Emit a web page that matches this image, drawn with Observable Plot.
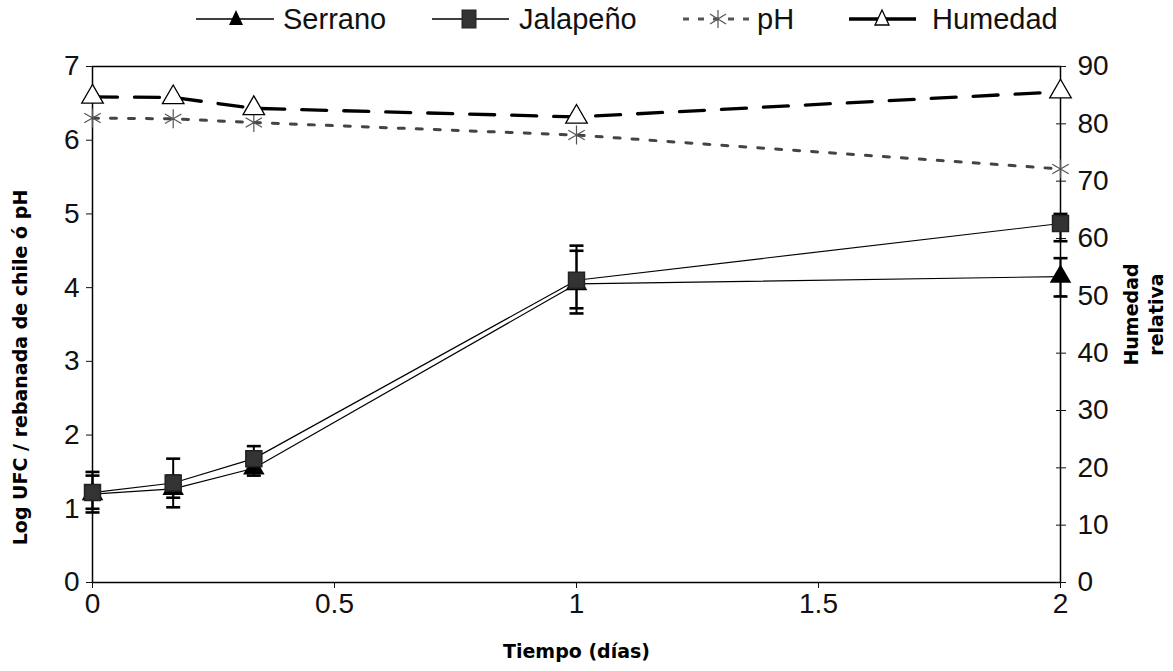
<!DOCTYPE html>
<html><head><meta charset="utf-8">
<script src="https://cdn.jsdelivr.net/npm/d3@7"></script>
<script src="https://cdn.jsdelivr.net/npm/@observablehq/plot@0.6"></script>
<style>
body{margin:0;background:#fff;}
#legend{position:relative;height:45px;width:1173px;font-family:"Liberation Sans",Arial,sans-serif;font-size:29px;color:#111;}
.sw{position:absolute;top:0;}
.lt{position:absolute;top:0;height:38px;line-height:38px;white-space:nowrap;}
</style></head><body>
<div id="legend"></div><div id="chart"></div>
<script>
// ---- data ----
const days = [0, 0.1667, 0.3333, 1, 2];
const serrano = [1.2, 1.27, 1.55, 4.05, 4.15];
const serranoLow = [0.95, 1.02, 1.45, 3.65, 3.88];
const serranoHigh = [1.45, 1.45, 1.72, 4.5, 4.4];
const jalapeno = [1.22, 1.35, 1.68, 4.1, 4.87];
const jalapenoLow = [1.0, 1.15, 1.5, 3.72, 4.63];
const jalapenoHigh = [1.5, 1.68, 1.85, 4.57, 5.0];
const ph = [6.3, 6.29, 6.24, 6.07, 5.61];
const humedad = [84.7, 84.6, 82.7, 81.2, 85.6];
const xTicks = [0, 0.5, 1, 1.5, 2];
const leftTicks = [0, 1, 2, 3, 4, 5, 6, 7];
const rightTicks = [0, 10, 20, 30, 40, 50, 60, 70, 80, 90];
const seriesNames = ["Serrano", "Jalapeño", "pH", "Humedad"];
const xTitle = "Tiempo (días)";
const yTitle = "Log UFC / rebanada de chile ó pH";
const y2Title = "Humedad\nrelativa";

const rows = days.map((d, i) => ({
  day: d,
  serrano: serrano[i], serranoLow: serranoLow[i], serranoHigh: serranoHigh[i],
  jalapeno: jalapeno[i], jalapenoLow: jalapenoLow[i], jalapenoHigh: jalapenoHigh[i],
  ph: ph[i], humedad: humedad[i]
}));

const y2 = d3.scaleLinear([0, 90], [0, 7]);
const cap = {draw(ctx, size) { const r = Math.sqrt(size / Math.PI); ctx.moveTo(-r, 0); ctx.lineTo(r, 0); }};

// ---- legend ----
const legend = document.getElementById("legend");
const items = [
  {name: seriesNames[0], x1: 196, x2: 274, mx: 236, tx: 283, dash: null, sw: 1.3, marker: "tri-fill"},
  {name: seriesNames[1], x1: 432, x2: 509, mx: 469, tx: 519, dash: null, sw: 1.3, marker: "square"},
  {name: seriesNames[2], x1: 683, x2: 749, mx: 718, tx: 757, dash: "6,9", sw: 3, marker: "asterisk"},
  {name: seriesNames[3], x1: 849, x2: 916, mx: 882, tx: 932, dash: null, sw: 3.5, marker: "tri-open"}
];
for (const it of items) {
  const w = it.x2 - it.x1, cx = it.mx - it.x1, cy = 19;
  let mk = "";
  if (it.marker === "tri-fill") mk = `<path d="M${cx},${cy-9} L${cx+7},${cy+6} L${cx-7},${cy+6} Z" fill="#000"/>`;
  if (it.marker === "square") mk = `<rect x="${cx-7}" y="${cy-9}" width="14" height="18" fill="#333" stroke="#222"/>`;
  if (it.marker === "asterisk") mk = `<path d="M${cx},${cy-9}V${cy+9}M${cx-8},${cy-5}L${cx+8},${cy+5}M${cx-8},${cy+5}L${cx+8},${cy-5}" stroke="#555" stroke-width="1.2"/>`;
  if (it.marker === "tri-open") mk = `<path d="M${cx},${cy-9} L${cx+7},${cy+6} L${cx-7},${cy+6} Z" fill="#fff" stroke="#000" stroke-width="1.3"/>`;
  const stroke = it.marker === "asterisk" ? "#555" : "#000";
  legend.insertAdjacentHTML("beforeend",
    `<svg class="sw" style="left:${it.x1}px" width="${w}" height="38"><line x1="0" x2="${w}" y1="${cy}" y2="${cy}" stroke="${stroke}" stroke-width="${it.sw}" ${it.dash ? `stroke-dasharray="${it.dash}"` : ""}/>${mk}</svg>` +
    `<div class="lt" style="left:${it.tx}px">${it.name}</div>`);
}

// ---- chart ----
const titleStyle = {fontFamily: "'DejaVu Sans', sans-serif", fontWeight: "bold", fontSize: 19, fill: "#000", textAnchor: "middle"};
const chart = Plot.plot({
  width: 1173, height: 626,
  marginTop: 21, marginBottom: 89, marginLeft: 92, marginRight: 113,
  x: {domain: [0, 2]},
  y: {domain: [0, 7]},
  style: {fontFamily: "'Liberation Sans', Arial, sans-serif", fontSize: "28px", color: "#111", background: "#fff", overflow: "visible"},
  marks: [
    Plot.frame({stroke: "#000", strokeWidth: 1.5}),
    Plot.axisX(xTicks, {tickSize: 6, tickPadding: 5, label: null, tickFormat: d => String(d)}),
    Plot.axisY(leftTicks, {tickSize: 6, tickPadding: 7, label: null, tickFormat: d => String(d)}),
    Plot.axisY(rightTicks, {anchor: "right", y: y2, tickSize: 5, tickPadding: 12, label: null, tickFormat: d => String(d)}),
    Plot.axisY(rightTicks, {anchor: "right", y: y2, tickSize: 5, dx: -5, label: null, tickFormat: () => ""}),
    // humedad & pH
    Plot.line(rows, {x: "day", y: d => y2(d.humedad), stroke: "#000", strokeWidth: 3.3, strokeDasharray: "25,17"}),
    Plot.line(rows, {x: "day", y: "ph", stroke: "#444", strokeWidth: 3, strokeDasharray: "6,12"}),
    // error bars
    Plot.ruleX(rows, {x: "day", y1: "jalapenoLow", y2: "jalapenoHigh", stroke: "#000", strokeWidth: 2}),
    Plot.ruleX(rows, {x: "day", y1: "serranoLow", y2: "serranoHigh", stroke: "#000", strokeWidth: 2}),
    Plot.dot(rows, {x: "day", y: "jalapenoLow", symbol: cap, r: 7, fill: "none", stroke: "#000", strokeWidth: 2.6}),
    Plot.dot(rows, {x: "day", y: "jalapenoHigh", symbol: cap, r: 7, fill: "none", stroke: "#000", strokeWidth: 2.6}),
    Plot.dot(rows, {x: "day", y: "serranoLow", symbol: cap, r: 7, fill: "none", stroke: "#000", strokeWidth: 2.6}),
    Plot.dot(rows, {x: "day", y: "serranoHigh", symbol: cap, r: 7, fill: "none", stroke: "#000", strokeWidth: 2.6}),
    // series lines
    Plot.line(rows, {x: "day", y: "jalapeno", stroke: "#000", strokeWidth: 1.2}),
    Plot.line(rows, {x: "day", y: "serrano", stroke: "#000", strokeWidth: 1.2}),
    // markers
    Plot.dot(rows, {x: "day", y: "serrano", symbol: "triangle", r: 8, fill: "#000"}),
    Plot.dot(rows, {x: "day", y: "jalapeno", symbol: "square", r: 9, fill: "#333", stroke: "#222"}),
    Plot.dot(rows, {x: "day", y: "ph", symbol: "asterisk", r: 9, fill: "none", stroke: "#555", strokeWidth: 1.2}),
    Plot.dot(rows, {x: "day", y: d => y2(d.humedad), symbol: "triangle", r: 8, fill: "#fff", stroke: "#000", strokeWidth: 1.3}),
    // titles
    Plot.text([xTitle], {frameAnchor: "bottom", dy: 75, ...titleStyle}),
    Plot.text([yTitle], {frameAnchor: "left", dx: -72, dy: 43, rotate: -90, ...titleStyle}),
    Plot.text([y2Title], {frameAnchor: "right", dx: 82, dy: -10, rotate: -90, lineHeight: 1.3, ...titleStyle})
  ]
});
document.getElementById("chart").appendChild(chart);
</script>
</body></html>
